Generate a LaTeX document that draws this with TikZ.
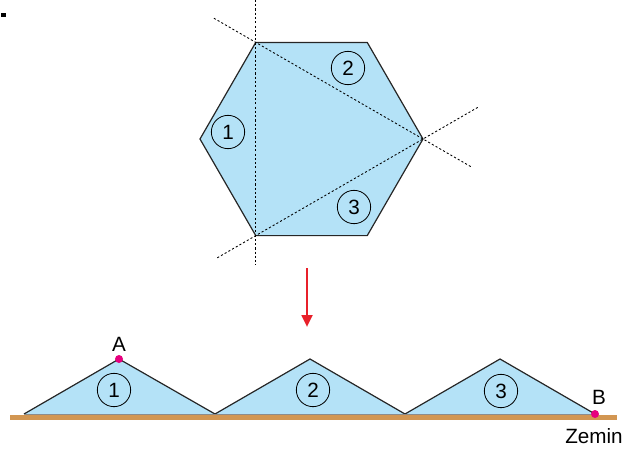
\documentclass[tikz,border=0pt]{standalone}
\usepackage{fontspec}
\setmainfont{Liberation Sans}
\usetikzlibrary{arrows.meta,calc,positioning}
\definecolor{piece}{RGB}{180,226,247}
\definecolor{soil}{RGB}{210,150,82}
\definecolor{pinkdot}{RGB}{230,0,126}
\definecolor{fallred}{RGB}{232,32,42}
\tikzset{
  rim/.style={draw=black!85, line width=0.9pt, line join=miter},
  fold/.style={dash pattern=on 1.6pt off 1.6pt, line width=0.65pt},
  num/.style={draw, circle, minimum size=25pt, inner sep=0pt, line width=0.6pt,
    font=\fontsize{15.5}{17}\selectfont},
  lbl/.style={font=\fontsize{15.5}{17}\selectfont, inner sep=1pt},
  dot/.style={circle, fill=pinkdot, inner sep=0pt, minimum size=6pt},
  fall/.style={fallred, line width=2pt, -{Triangle[width=8pt,length=9pt]}}
}
\begin{document}
\begin{tikzpicture}[x=0.75pt, y=-0.75pt]
    \useasboundingbox (0,0) rectangle (640,451);
    \fill (1.5,13) rectangle (5.5,17);
    % hexagon
    \coordinate (TL) at (255.75,42.4);
    \coordinate (TR) at (367.25,42.4);
    \coordinate (R) at (423,139);
    \coordinate (BR) at (367.25,235.6);
    \coordinate (BL) at (255.75,235.6);
    \coordinate (L) at (200,139);
    \filldraw[fill=piece, rim] (TL) -- (TR) -- (R) -- (BR) -- (BL) -- (L) -- cycle;
    \draw[fold] ($(TL)!-0.22!(BL)$) -- ($(TL)!1.152!(BL)$);
    \draw[fold] ($(TL)!-0.25!(R)$) -- ($(TL)!1.29!(R)$);
    \draw[fold] ($(BL)!-0.23!(R)$) -- ($(BL)!1.335!(R)$);
    \node[num] (h1) at (228,132) {1};
    \node[num] (h2) at (348,68) {2};
    \node[num] (h3) at (354,207) {3};
    % arrow
    \coordinate (top) at (307,268);
    \coordinate (tip) at (307,327);
    \draw[fall] (top) -- (tip);
    % pieces on the ground
    \coordinate (b0) at (24,414);
    \coordinate (a1) at (119,359);
    \coordinate (b1) at (215,414);
    \coordinate (a2) at (310,359);
    \coordinate (b2) at (405,414);
    \coordinate (a3) at (500,359);
    \coordinate (b3) at (595,414);
    \fill[piece] (b0) -- (a1) -- (b1) -- (a2) -- (b2) -- (a3) -- (b3) -- cycle;
    \draw[rim] (b0) -- (a1) -- (b1) -- (a2) -- (b2) -- (a3) -- (b3);
    \coordinate (g0) at (10,417.5);
    \coordinate (g1) at (617,417.5);
    \draw[soil, line width=3.6pt] (g0) -- (g1);
    \draw[black!45, line width=0.5pt] (b0) -- (b3);
    \node[num] (t1) at (114,390) {1};
    \node[num] (t2) at (313,390) {2};
    \node[num] (t3) at (501,391) {3};
    \node[dot] (A) at (a1) {};
    \node[dot] (B) at (b3) {};
    \node[lbl] (Alab) at (119,344) {A};
    \node[lbl] (Blab) at (599,397) {B};
    \node[lbl] (zemin) at (594,436) {Zemin};
\end{tikzpicture}
\end{document}
